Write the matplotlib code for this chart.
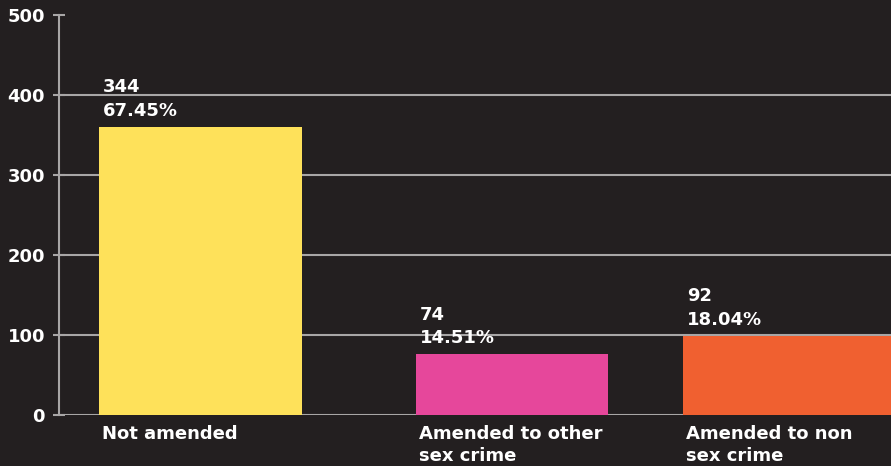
import matplotlib.pyplot as plt
from matplotlib.transforms import offset_copy

categories = ['Not amended', 'Amended to other\nsex crime', 'Amended to non\nsex crime']
counts = [344, 74, 92]
percents = ['67.45%', '14.51%', '18.04%']
bar_heights = [360, 76, 99]  # bar lengths as drawn in the chart
colors = ['#fee15a', '#e6479b', '#f06030']

# layout: bar left edges and widths (x in axis pixel units)
lefts = [40, 357, 624]
widths = [203, 192, 215]

bg = '#231f20'
grid_col = '#a8a6a6'

plt.rcParams['font.family'] = ['DejaVu Sans']
plt.rcParams['font.weight'] = 'bold'

fig = plt.figure(figsize=(8.91, 4.66), dpi=100, facecolor=bg)
ax = fig.add_axes([59 / 891, 1 - 415 / 466, 1 - 59 / 891, (415 - 15) / 466])
ax.set_facecolor(bg)

ax.set_xlim(0, 832)
ax.set_ylim(0, 500)
ax.set_yticks([0, 100, 200, 300, 400, 500])
ax.yaxis.grid(True, color=grid_col, linewidth=1.5, zorder=0)
ax.get_ygridlines()[-1].set_visible(False)
ax.set_axisbelow(True)

for s in ['top', 'right', 'bottom']:
    ax.spines[s].set_visible(False)
ax.spines['left'].set_color(grid_col)
ax.spines['left'].set_linewidth(1.5)
ax.set_xticks([])
ax.tick_params(axis='y', colors=grid_col, direction='inout', length=8, width=1.5,
               pad=6, labelcolor='white', labelsize=13)
for lab in ax.get_yticklabels():
    lab.set_fontweight('bold')

ax.bar(lefts, bar_heights, width=widths, align='edge', color=colors, zorder=3)

for x, h, c, p in zip(lefts, bar_heights, counts, percents):
    ax.annotate(f'{c}\n{p}', xy=(x, h), xytext=(3, 5), textcoords='offset points',
                ha='left', va='bottom', color='white', fontsize=13,
                fontweight='bold', linespacing=1.4)

trans = offset_copy(ax.get_xaxis_transform(), fig=fig, x=0, y=-7, units='points')
for x, cat in zip(lefts, categories):
    ax.text(x + 3, 0, cat, transform=trans, ha='left', va='top', color='white',
            fontsize=13, fontweight='bold', linespacing=1.3)

fig.savefig('out.png', dpi=100, facecolor=bg)
